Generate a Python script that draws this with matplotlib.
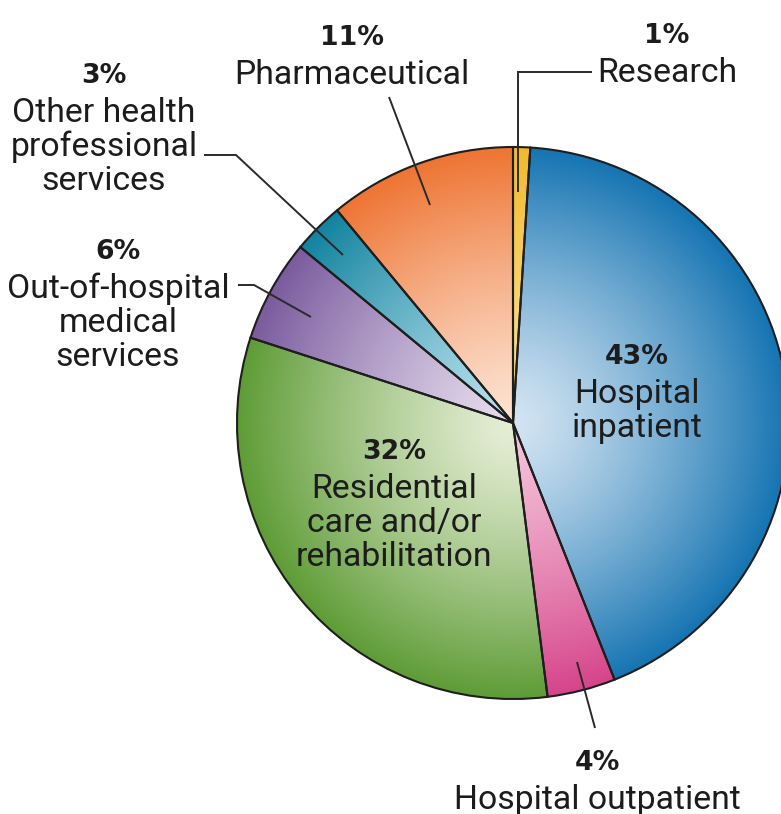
import numpy as np
import matplotlib
matplotlib.use("Agg")
import matplotlib.pyplot as plt
from matplotlib.colors import to_rgb

# Share of health expenditure by area of spending (%)
categories = ["Research", "Hospital inpatient", "Hospital outpatient",
              "Residential care and/or rehabilitation",
              "Out-of-hospital medical services",
              "Other health professional services", "Pharmaceutical"]
shares = [1, 43, 4, 32, 6, 3, 11]
label_lines = [["Research"], ["Hospital", "inpatient"], ["Hospital outpatient"],
               ["Residential", "care and/or", "rehabilitation"],
               ["Out-of-hospital", "medical", "services"],
               ["Other health", "professional", "services"],
               ["Pharmaceutical"]]

# rim colour and centre colour of each slice's radial shading
rim_colors = ["#f2b92e", "#1574b2", "#d6448a", "#5e9c36", "#7a5b9e", "#12839f", "#ee7433"]
centre_colors = ["#fbe38e", "#d3e4f2", "#f5c6dc", "#e6eed6", "#e6dced", "#b9e2ee", "#fde3d2"]

W, H = 781, 814
fig = plt.figure(figsize=(W / 100, H / 100), dpi=100)
ax = fig.add_axes([0, 0, 1, 1])

cx, cy, R = 513, H - 423, 276
wedges, _ = ax.pie(shares, startangle=90, counterclock=False,
                   center=(cx, cy), radius=R, colors=rim_colors,
                   wedgeprops=dict(edgecolor="#1e1e1e", linewidth=1.5))

ax.set_xlim(0, W)
ax.set_ylim(0, H)
ax.set_aspect("equal")
ax.axis("off")

# radial shading, clipped to each wedge
n = 600
gx = np.linspace(-1, 1, n)
XX, YY = np.meshgrid(gx, gx)
rr = np.clip(np.hypot(XX, YY), 0, 1)
t = rr ** 1.25
for w, rim, ctr in zip(wedges, rim_colors, centre_colors):
    c0 = np.array(to_rgb(ctr))
    c1 = np.array(to_rgb(rim))
    img = c0[None, None, :] * (1 - t[..., None]) + c1[None, None, :] * t[..., None]
    im = ax.imshow(img, extent=(cx - R, cx + R, cy - R, cy + R), origin="lower",
                   interpolation="bilinear", zorder=1)
    im.set_clip_path(w)
    w.set_facecolor("none")
    w.set_zorder(2)

ax.set_xlim(0, W)
ax.set_ylim(0, H)

# label anchor: centre x, baseline of the percentage (pixels from top)
label_pos = [(667, 43), (637, 364), (597, 770), (394, 459), (118, 259), (104, 83), (352, 45)]
txt_color = "#1c1c1c"
step = 34
for share, lines, (lx, ly) in zip(shares, label_lines, label_pos):
    ax.text(lx, H - ly, f"{share}%", ha="center", va="baseline",
            fontsize=19.2, fontweight="bold", family="DejaVu Sans",
            color=txt_color, zorder=5)
    for i, line in enumerate(lines):
        ax.text(lx, H - (ly + 39 + i * step), line, ha="center", va="baseline",
                fontsize=24.3, family="Roboto", color=txt_color, zorder=5)

# leader lines (pixel coordinates from top-left)
leaders = [
    [(518, 192), (518, 72), (592, 72)],
    [(389, 97), (430, 205)],
    [(204, 155), (236, 155), (343, 255)],
    [(238, 285), (254, 285), (311, 317)],
    [(577, 662), (595, 728)],
]
for pts in leaders:
    xs = [p[0] for p in pts]
    ys = [H - p[1] for p in pts]
    ax.plot(xs, ys, color="#2a2a2a", linewidth=1.4, zorder=4,
            solid_capstyle="butt", solid_joinstyle="miter")

fig.savefig("out.png", dpi=100, facecolor="white")
